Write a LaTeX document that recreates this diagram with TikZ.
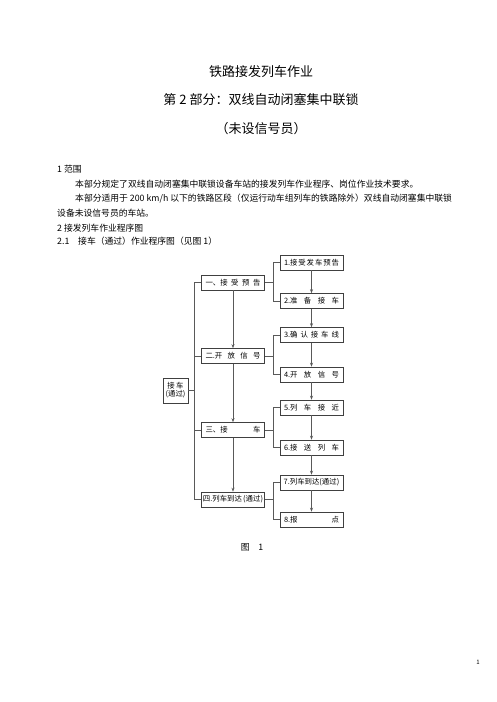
\documentclass[tikz,border=0pt]{standalone}
\usepackage{fontspec}
\setmainfont{Noto Sans CJK SC}
\usetikzlibrary{arrows.meta}
\begin{document}
\begin{tikzpicture}[x=1pt,y=-1pt,
  box/.style={draw=black!75, line width=0.6pt, minimum width=63pt, minimum height=15pt, inner sep=0pt, font=\fontsize{7.4}{8}\selectfont},
  ln/.style={draw=black!65, line width=0.6pt},
  arr/.style={ln, -{Stealth[length=4pt,width=3pt]}},
  ttl/.style={font=\fontsize{13}{15}\selectfont, inner sep=0pt},
  body/.style={font=\fontsize{8.8}{10}\selectfont, inner sep=0pt, anchor=west},
]
\useasboundingbox (0,0) rectangle (496,702);
% titles
\node[ttl] (t1) at (261,72) {铁路接发列车作业};
\node[ttl] (t2) at (261,100) {第 2 部分：双线自动闭塞集中联锁};
\node[ttl] (t3) at (261,129) {（未设信号员）};
% body
\node[body] (p1) at (57,169) {1\ 范围};
\node[body] (p2) at (75,184) {本部分规定了双线自动闭塞集中联锁设备车站的接发列车作业程序、岗位作业技术要求。};
\node[body] (p3) at (75,199) {本部分适用于 200 km/h 以下的铁路区段（仅运行动车组列车的铁路除外）双线自动闭塞集中联锁};
\node[body] (p4) at (57,213) {设备未设信号员的车站。};
\node[body] (p5) at (57,228) {2\ 接发列车作业程序图};
\node[body] (p6) at (57,241) {2.1\quad 接车（通过）作业程序图（见图 1）};
% right boxes
\node[box] (r1) at (311.5,262.5) {\makebox[55pt]{1.接\hfill 受\hfill 发\hfill 车\hfill 预\hfill 告}};
\node[box] (r2) at (311.5,301) {\makebox[55pt]{2.准\hfill 备\hfill 接\hfill 车}};
\node[box] (r3) at (311.5,335) {\makebox[55pt]{3.确\hfill 认\hfill 接\hfill 车\hfill 线}};
\node[box] (r4) at (311.5,374.5) {\makebox[55pt]{4.开\hfill 放\hfill 信\hfill 号}};
\node[box] (r5) at (311.5,407.5) {\makebox[55pt]{5.列\hfill 车\hfill 接\hfill 近}};
\node[box] (r6) at (311.5,447.5) {\makebox[55pt]{6.接\hfill 送\hfill 列\hfill 车}};
\node[box] (r7) at (311.5,482.5) {\makebox[55pt]{7.列车到达\hfill (通过)}};
\node[box] (r8) at (311.5,519.5) {\makebox[55pt]{8.报\hfill 点}};
% left boxes
\node[box] (l1) at (233,282.5) {\makebox[55pt]{一、接\hfill 受\hfill 预\hfill 告}};
\node[box] (l2) at (233,356) {\makebox[55pt]{二.开\hfill 放\hfill 信\hfill 号}};
\node[box] (l3) at (233,430) {\makebox[55pt]{三、接\hfill 车}};
\node[box] (l4) at (233,499.5) {\makebox[58pt]{四.\hfill 列车到达\,(通过)}};
\node[box, minimum width=25pt, minimum height=25pt, align=center] (s) at (175.5,390.5) {接\,车\\(通过)};
% left bus
\coordinate (bx) at (194,0);
\draw[ln] (bx |- l1.west) -- (bx |- l4.west);
\draw[ln] (s.east) -- (s.east -| bx);
\foreach \n in {l1,l2,l3,l4} \draw[ln] (bx |- \n.west) -- (\n.west);
% right brackets
\foreach \l/\a/\b in {l1/r1/r2, l2/r3/r4, l3/r5/r6, l4/r7/r8} {
  \draw[ln] (\l.east) -- ++(8,0) coordinate (j);
  \draw[ln] (j) |- (\a.west);
  \draw[ln] (j) |- (\b.west);
}
% arrows
\draw[arr] (l1.south) -- (l2.north);
\draw[arr] (l2.south) -- (l3.north);
\draw[arr] (l3.south) -- (l4.north);
\foreach \a/\b in {r1/r2,r2/r3,r3/r4,r4/r5,r5/r6,r6/r7,r7/r8} \draw[arr] (\a.south) -- (\b.north);
% caption
\node[font=\fontsize{8.8}{10}\selectfont, inner sep=0pt] (cap) at (252,547) {图\quad 1};
\node[font=\fontsize{6}{7}\selectfont, inner sep=0pt] (pg) at (478,662) {1};
\end{tikzpicture}
\end{document}
